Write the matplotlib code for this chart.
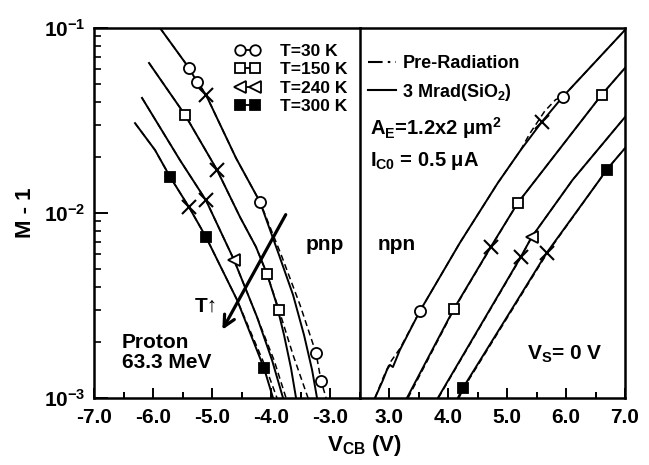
import numpy as np
import matplotlib
matplotlib.use("Agg")
import matplotlib.pyplot as plt
from matplotlib.lines import Line2D
from matplotlib.ticker import FixedLocator, NullFormatter, LogLocator

plt.rcParams['font.family'] = ['Liberation Sans', 'DejaVu Sans']
plt.rcParams['font.weight'] = 'bold'
plt.rcParams['mathtext.fontset'] = 'custom'
plt.rcParams['mathtext.rm'] = 'Liberation Sans:bold'
plt.rcParams['mathtext.it'] = 'Liberation Sans:bold'
plt.rcParams['mathtext.bf'] = 'Liberation Sans:bold'
plt.rcParams['mathtext.sf'] = 'Liberation Sans:bold'

# ---- pnp side (V_CB < 0) ----
# T = 30 K
pnp_30_x = [-5.883, -5.393, -5.257, -5.105, -4.597, -4.191, -3.870, -3.633, -3.447, -3.311, -3.227]
pnp_30_y = [0.100, 0.0608, 0.0511, 0.0435, 0.0198, 0.01146, 0.00593, 0.00361, 0.00219, 0.00142, 0.00100]
pnp_30_pre_x = [-5.883, -5.393, -5.105, -4.597, -4.191, -3.819, -3.514, -3.244, -3.159, -3.074]
pnp_30_pre_y = [0.100, 0.0608, 0.0435, 0.0198, 0.01146, 0.00578, 0.00318, 0.00175, 0.00124, 0.00100]
pnp_30_mk_x = [-5.393, -5.257, -4.191, -3.244, -3.159]
pnp_30_mk_y = [0.0608, 0.0511, 0.01146, 0.00175, 0.00124]
# T = 150 K
pnp_150_x = [-6.069, -5.460, -4.919, -4.530, -4.259, -4.073, -3.921, -3.785, -3.667, -3.582]
pnp_150_y = [0.0647, 0.0339, 0.0171, 0.00951, 0.00655, 0.00468, 0.00330, 0.00219, 0.00145, 0.00100]
pnp_150_pre_x = [-6.069, -5.460, -4.919, -4.530, -4.259, -4.073, -3.870, -3.633, -3.379]
pnp_150_pre_y = [0.0647, 0.0339, 0.0171, 0.00951, 0.00655, 0.00468, 0.00299, 0.00171, 0.00100]
pnp_150_mk_x = [-5.460, -4.073, -3.870]
pnp_150_mk_y = [0.0339, 0.00468, 0.00299]
# T = 240 K
pnp_240_x = [-6.188, -5.545, -5.105, -4.631, -4.242, -3.988, -3.802]
pnp_240_y = [0.0419, 0.0193, 0.0117, 0.00557, 0.00274, 0.00160, 0.00100]
pnp_240_pre_x = [-6.188, -5.545, -5.105, -4.631, -4.242, -3.954, -3.751]
pnp_240_pre_y = [0.0419, 0.0193, 0.0117, 0.00557, 0.00274, 0.00160, 0.00100]
pnp_240_mk_x = [-4.631]
pnp_240_mk_y = [0.00557]
# T = 300 K
pnp_300_x = [-6.306, -5.968, -5.714, -5.393, -5.105, -4.580, -4.124, -3.971]
pnp_300_y = [0.0306, 0.0219, 0.0157, 0.01076, 0.00741, 0.00339, 0.00145, 0.00100]
pnp_300_pre_x = [-6.306, -5.968, -5.714, -5.393, -5.105, -4.580, -4.090, -3.904]
pnp_300_pre_y = [0.0306, 0.0219, 0.0157, 0.01076, 0.00741, 0.00339, 0.00145, 0.00100]
pnp_300_mk_x = [-5.714, -5.105, -4.124]
pnp_300_mk_y = [0.0157, 0.00741, 0.00145]
# crosses
pnp_x_x = [-5.105, -4.919, -5.105, -5.393]
pnp_x_y = [0.0435, 0.0171, 0.0117, 0.01076]

# ---- npn side (V_CB > 0) ----
npn_30_x = [2.754, 2.890, 2.958, 3.008, 3.059, 3.178, 3.517, 4.195, 4.839, 5.229, 5.585, 5.941, 7.0]
npn_30_y = [0.00100, 0.00125, 0.00142, 0.00151, 0.00147, 0.00182, 0.00295, 0.00689, 0.01452, 0.0219,
            0.0310, 0.0424, 0.0976]
npn_30_pre_x = [2.754, 2.890, 3.008, 3.178, 3.517, 4.195, 4.839, 5.229, 5.381, 5.636, 5.822, 5.941, 7.0]
npn_30_pre_y = [0.00100, 0.00128, 0.00155, 0.00185, 0.00295, 0.00689, 0.01452, 0.0219, 0.0268, 0.0355,
                0.0410, 0.0424, 0.0976]
npn_30_mk_x = [3.517, 5.941]
npn_30_mk_y = [0.00295, 0.0424]
npn_150_x = [3.297, 4.093, 4.720, 5.178, 6.602, 7.0]
npn_150_y = [0.00100, 0.00303, 0.00655, 0.01132, 0.0435, 0.0608]
npn_150_pre_x = [3.315, 4.100, 4.725, 5.178, 6.602, 7.0]
npn_150_pre_y = [0.00100, 0.00303, 0.00655, 0.01132, 0.0435, 0.0608]
npn_150_mk_x = [4.093, 5.178, 6.602]
npn_150_mk_y = [0.00303, 0.01132, 0.0435]
npn_240_x = [3.822, 5.229, 5.415, 6.110, 7.0]
npn_240_y = [0.00100, 0.00578, 0.00741, 0.0151, 0.0330]
npn_240_pre_x = [3.830, 5.235, 5.415, 6.110, 7.0]
npn_240_pre_y = [0.00100, 0.00578, 0.00741, 0.0151, 0.0330]
npn_240_mk_x = [5.415]
npn_240_mk_y = [0.00741]
npn_300_x = [4.161, 4.246, 5.669, 6.568, 6.686, 7.0]
npn_300_y = [0.00100, 0.00113, 0.00608, 0.0151, 0.0171, 0.0224]
npn_300_pre_x = [4.180, 4.260, 5.680, 6.568, 6.686, 7.0]
npn_300_pre_y = [0.00100, 0.00113, 0.00608, 0.0151, 0.0171, 0.0224]
npn_300_mk_x = [4.246, 6.686]
npn_300_mk_y = [0.00113, 0.0171]
npn_x_x = [5.585, 4.720, 5.229, 5.669]
npn_x_y = [0.0310, 0.00655, 0.00578, 0.00608]

temps = ["T=30 K", "T=150 K", "T=240 K", "T=300 K"]
pnp_ticks = [-7.0, -6.0, -5.0, -4.0, -3.0]
npn_ticks = [3.0, 4.0, 5.0, 6.0, 7.0]

# marker styles per temperature: (marker, facecolor, size)
styles = [('o', 'white', 8), ('s', 'white', 7), ('<', 'white', 9), ('s', 'black', 7)]
pre_ls = (0, (4, 2.5))

fig = plt.figure(figsize=(6.49, 4.65), dpi=100)
ax1 = fig.add_axes([94/649, 67/465, 266/649, 370/465])
ax2 = fig.add_axes([360/649, 67/465, 265/649, 370/465], sharey=ax1)
ax2.set_facecolor('none')

pnp = [(pnp_30_x, pnp_30_y, pnp_30_pre_x, pnp_30_pre_y, pnp_30_mk_x, pnp_30_mk_y),
       (pnp_150_x, pnp_150_y, pnp_150_pre_x, pnp_150_pre_y, pnp_150_mk_x, pnp_150_mk_y),
       (pnp_240_x, pnp_240_y, pnp_240_pre_x, pnp_240_pre_y, pnp_240_mk_x, pnp_240_mk_y),
       (pnp_300_x, pnp_300_y, pnp_300_pre_x, pnp_300_pre_y, pnp_300_mk_x, pnp_300_mk_y)]
npn = [(npn_30_x, npn_30_y, npn_30_pre_x, npn_30_pre_y, npn_30_mk_x, npn_30_mk_y),
       (npn_150_x, npn_150_y, npn_150_pre_x, npn_150_pre_y, npn_150_mk_x, npn_150_mk_y),
       (npn_240_x, npn_240_y, npn_240_pre_x, npn_240_pre_y, npn_240_mk_x, npn_240_mk_y),
       (npn_300_x, npn_300_y, npn_300_pre_x, npn_300_pre_y, npn_300_mk_x, npn_300_mk_y)]

for ax, curves, xx, xy in [(ax1, pnp, pnp_x_x, pnp_x_y), (ax2, npn, npn_x_x, npn_x_y)]:
    for (x, y, px, py, mx, my), (m, fc, ms) in zip(curves, styles):
        ax.plot(px, py, color='black', lw=1.1, linestyle=pre_ls)
        ax.plot(x, y, color='black', lw=1.4)
        ax.plot(mx, my, linestyle='none', marker=m, ms=ms, mfc=fc, mec='black', mew=1.3)
    ax.plot(xx, xy, linestyle='none', marker='x', ms=10, mec='black', mew=1.5)

ax1.set_yscale('log')
ax1.set_ylim(1e-3, 1e-1)
ax1.set_xlim(-7.0, -2.5)
ax2.set_xlim(2.5, 7.0)

for ax, ticks in [(ax1, pnp_ticks), (ax2, npn_ticks)]:
    ax.set_xticks(ticks)
    ax.set_xticklabels([f"{t:.1f}" for t in ticks], fontsize=15, fontweight='bold')
    ax.xaxis.set_minor_locator(FixedLocator([t + 0.5 for t in ticks] + [t - 0.5 for t in ticks]))
    ax.tick_params(axis='x', which='major', direction='in', length=7, width=1.4, pad=7, top=False)
    ax.tick_params(axis='x', which='minor', direction='in', length=4, width=1.4, top=False)
    for s in ax.spines.values():
        s.set_linewidth(1.8)

ax1.set_yticks([1e-3, 1e-2, 1e-1])
ax1.set_yticklabels([r'$10^{-3}$', r'$10^{-2}$', r'$10^{-1}$'], fontsize=15)
ax1.yaxis.set_minor_locator(LogLocator(base=10, subs=np.arange(2, 10)))
ax1.yaxis.set_minor_formatter(NullFormatter())
ax1.tick_params(axis='y', which='major', direction='in', length=10, width=1.4, pad=6, right=False)
ax1.tick_params(axis='y', which='minor', direction='in', length=5, width=1.2, right=False)
ax2.tick_params(axis='y', which='both', left=False, right=False, labelleft=False)
ax2.spines['left'].set_visible(False)

ax1.set_ylabel('M - 1', fontsize=16, fontweight='bold', labelpad=6)
fig.text(364/649, 20/465, r'V$_{CB}$ (V)', fontsize=16, fontweight='bold', ha='center', va='center')

# left legend (temperatures)
handles = [Line2D([], [], color='black', lw=1.3, marker=m, ms=ms * 0.95, mfc=fc, mec='black', mew=1.3)
           for m, fc, ms in styles]
ax1.legend(handles, temps, loc='upper left', bbox_to_anchor=(0.53, 0.957), frameon=False,
           numpoints=2, handlelength=1.45, handletextpad=1.15, labelspacing=0.18,
           borderpad=0, borderaxespad=0, prop={'size': 12.5, 'weight': 'bold'})

# right legend (radiation)
h_pre = Line2D([], [], color='black', lw=1.5, linestyle=(0, (7, 2.5, 1.2, 2.5)))
h_post = Line2D([], [], color='black', lw=1.5)
ax2.legend([h_pre, h_post], ['Pre-Radiation', r'3 Mrad(SiO$_2$)'], loc='upper left',
           bbox_to_anchor=(0.03, 0.926), frameon=False, handlelength=1.55, handletextpad=0.35,
           labelspacing=0.52, borderpad=0, borderaxespad=0, prop={'size': 13, 'weight': 'bold'})

ax2.text(0.038, 0.711, r'A$_E$=1.2x2 μm$^2$', transform=ax2.transAxes, fontsize=14.5, fontweight='bold')
ax2.text(0.038, 0.627, r'I$_{C0}$ = 0.5 μA', transform=ax2.transAxes, fontsize=14.5, fontweight='bold')
ax2.text(0.068, 0.414, 'npn', transform=ax2.transAxes, fontsize=15, fontweight='bold', va='center')
ax2.text(0.63, 0.103, r'V$_S$= 0 V', transform=ax2.transAxes, fontsize=15, fontweight='bold')

ax1.text(0.795, 0.414, 'pnp', transform=ax1.transAxes, fontsize=15, fontweight='bold', va='center')
ax1.text(0.105, 0.151, 'Proton', transform=ax1.transAxes, fontsize=15, fontweight='bold', va='center')
ax1.text(0.105, 0.097, '63.3 MeV', transform=ax1.transAxes, fontsize=15, fontweight='bold', va='center')
ax1.text(0.38, 0.249, 'T↑', transform=ax1.transAxes, fontsize=15, fontweight='bold', va='center')

ax1.annotate('', xy=(-4.851, 0.00227), xytext=(-3.734, 0.0101),
             arrowprops=dict(arrowstyle='->,head_length=0.8,head_width=0.4', lw=2.3, color='black'))

fig.savefig('out.png', dpi=100)
